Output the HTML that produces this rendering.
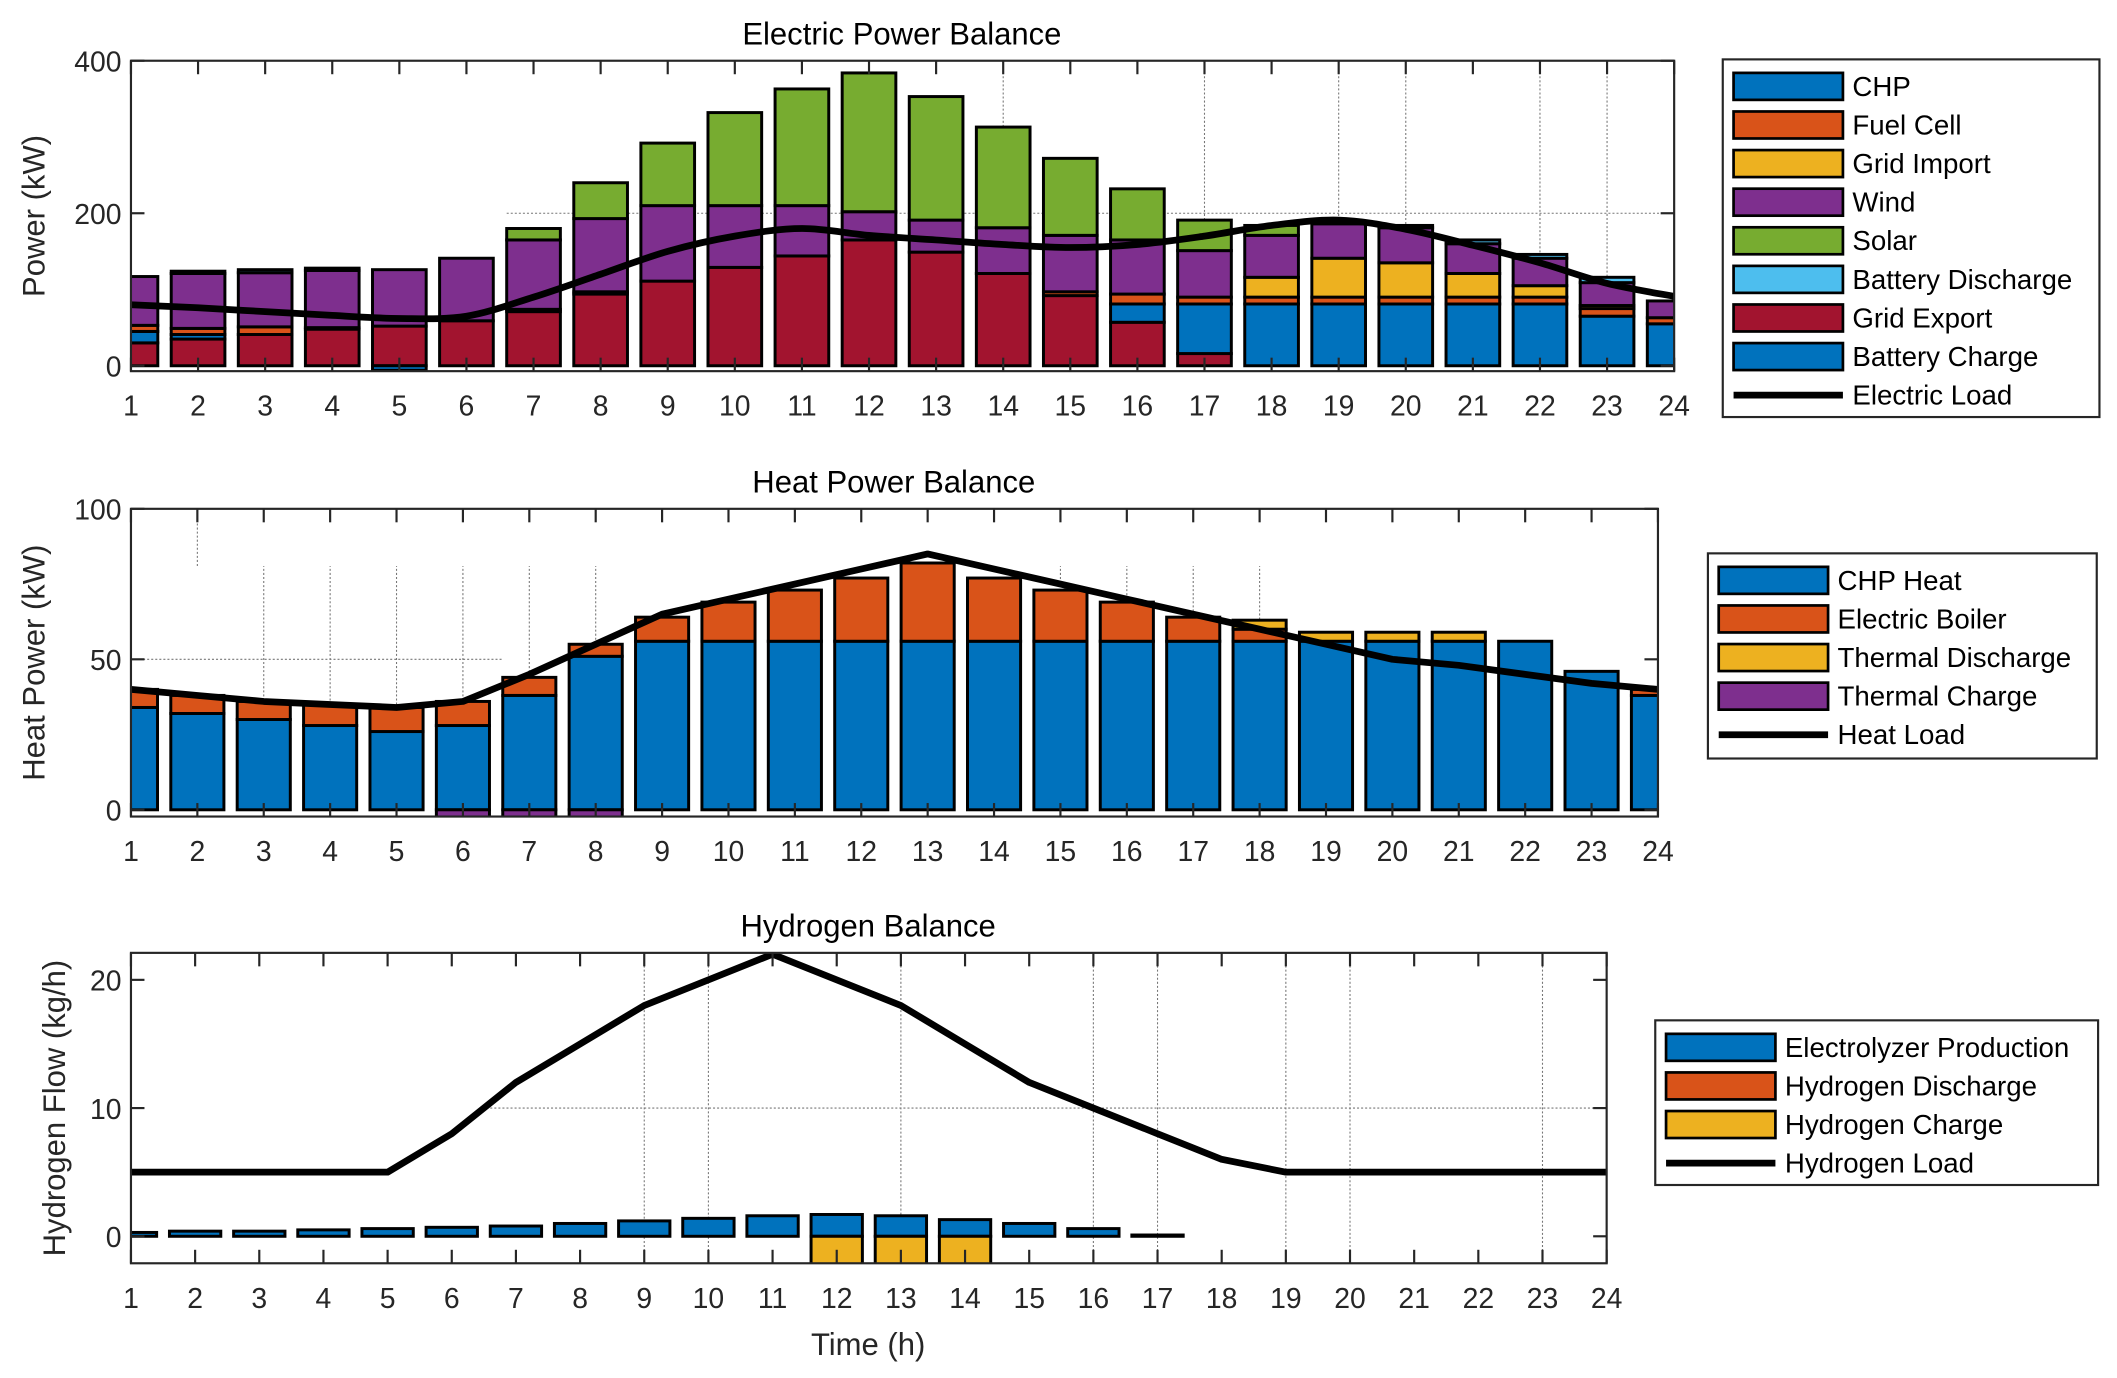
<!DOCTYPE html>
<html><head><meta charset="utf-8"><style>
html,body{margin:0;padding:0;background:#fff;}
svg{display:block;font-family:"Liberation Sans",Arial,sans-serif;}
</style></head><body>
<svg id="fig" width="2117" height="1378" viewBox="0 0 1568 1021" preserveAspectRatio="none" xmlns="http://www.w3.org/2000/svg"></svg>
<script>
const hours = [1,2,3,4,5,6,7,8,9,10,11,12,13,14,15,16,17,18,19,20,21,22,23,24];
// Electric (kW)
const elGridExport = [30,35,41,48,52,59,71,94,111,129,144,165,149,121,92,57,16,0,0,0,0,0,0,0];
const elCHP        = [15,6,0,0,0,0,0,0,0,0,0,0,0,0,0,24,65,81,81,81,81,81,65,55];
const elFuelCell   = [8,8,10,2,0,0,3,3,0,0,0,0,0,0,5,13,9,9,9,9,9,9,10,8];
const elGridImport = [0,0,0,0,0,0,0,0,0,0,0,0,0,0,0,0,0,26,51,45,31,15,4,0];
const elWind       = [64,72,71,75,74,82,91,96,99,81,66,37,42,60,74,71,61,55,45,46,39,36,30,22];
const elSolar      = [0,0,0,0,0,0,15,47,82,122,153,182,162,132,101,67,40,13,0,0,0,0,0,0];
const elBattDis    = [0,3,4,3,0,0,0,0,0,0,0,0,0,0,0,0,0,0,0,3,5,5,7,0];
const elBattCh     = [0,0,0,0,-6,0,0,0,0,0,0,0,0,0,0,0,0,0,0,0,0,0,0,0];
const elLoad       = [80,76,71,66,62,65,90,120,150,170,180,171,165,159,155,159,170,184,191,179,158,135,108,91];
const elYTicks = [0,200,400];
// Heat (kW)
const htCHP   = [34,32,30,28,26,28,38,51,56,56,56,56,56,56,56,56,56,56,56,56,56,56,46,38];
const htEB    = [6,6,6,7,8,8,6,4,8,13,17,21,26,21,17,13,8,4,0,0,0,0,0,2];
const htTD    = [0,0,0,0,0,0,0,0,0,0,0,0,0,0,0,0,0,3,3,3,3,0,0,0];
const htTC    = [0,0,0,0,0,-3,-3,-3,0,0,0,0,0,0,0,0,0,0,0,0,0,0,0,0];
const htLoad  = [40,38,36,35,34,36,45,55,65,70,75,80,85,80,75,70,65,60,55,50,48,45,42,40];
const htYTicks = [0,50,100];
// Hydrogen (kg/h)
const hyProd  = [0.3,0.4,0.4,0.5,0.6,0.7,0.8,1.0,1.2,1.4,1.6,1.7,1.6,1.3,1.0,0.6,0.1,0,0,0,0,0,0,0];
const hyDis   = [0,0,0,0,0,0,0,0,0,0,0,0,0,0,0,0,0,0,0,0,0,0,0,0];
const hyCh    = [0,0,0,0,0,0,0,0,0,0,0,-3,-3,-3,0,0,0,0,0,0,0,0,0,0];
const hyLoad  = [5,5,5,5,5,8,12,15,18,20,22,20,18,15,12,10,8,6,5,5,5,5,5,5];
const hyYTicks = [0,10,20];

const C = {chp:'#0072BD',fc:'#D95319',gi:'#EDB120',wind:'#7E2F8E',solar:'#77AC30',bd:'#4DBEEE',ge:'#A2142F'};
const NS='http://www.w3.org/2000/svg';
const fig=document.getElementById('fig');
function mk(tag,attrs,parent){const e=document.createElementNS(NS,tag);for(const k in attrs)e.setAttribute(k,attrs[k]);(parent||fig).appendChild(e);return e;}

function axes(cfg){
  const g=mk('g',{});
  
  
  const X=v=>cfg.l+(v-1)*(cfg.r-cfg.l)/23;
  const Y=v=>cfg.y0-(v)*cfg.k;
  const clipId=cfg.name+'-clip';
  const cp=mk('clipPath',{id:clipId},g);
  mk('rect',{x:cfg.l,y:cfg.t,width:cfg.r-cfg.l,height:cfg.b-cfg.t},cp);
  // grid lines
  const grid=mk('g',{stroke:'#777','stroke-width':0.8,'stroke-dasharray':'1.5 1.5'},g);
  
  
  cfg.grid.forEach(s=>mk('line',{x1:s[0]==='v'?X(s[1]):X(s[2]),x2:s[0]==='v'?X(s[1]):X(s[3]),y1:s[0]==='v'?Y(s[2]):Y(s[1]),y2:s[0]==='v'?Y(s[3]):Y(s[1])},grid));
  const bars=mk('g',{'clip-path':'url(#'+clipId+')'},g);
  const bw=0.8*(cfg.r-cfg.l)/23;
  hours.forEach((h,i)=>{
    let pos=0,neg=0;
    cfg.series.forEach(s=>{
      const v=s.data[i]; if(!v) return;
      let y1,y2; if(v>0){y1=pos;y2=pos+v;pos=y2;} else {y1=neg+v;y2=neg;neg=y1;}
      const r=mk('rect',{x:X(h)-bw/2,y:Y(y2),width:bw,height:Y(y1)-Y(y2),fill:s.color,stroke:'#000','stroke-width':2.2},bars);
      
      
    });
  });
  // load line
  let d='';
  if(cfg.smooth){
    const P=hours.map((h,i)=>[X(h),Y(cfg.load[i])]);
    d='M'+P[0][0]+','+P[0][1];
    for(let i=0;i<P.length-1;i++){const p0=P[Math.max(0,i-1)],p1=P[i],p2=P[i+1],p3=P[Math.min(P.length-1,i+2)];
      d+=' C'+(p1[0]+(p2[0]-p0[0])/6)+','+(p1[1]+(p2[1]-p0[1])/6)+' '+(p2[0]-(p3[0]-p1[0])/6)+','+(p2[1]-(p3[1]-p1[1])/6)+' '+p2[0]+','+p2[1];}
  } else d=hours.map((h,i)=>(i?'L':'M')+X(h)+','+Y(cfg.load[i])).join(' ');
  const ln=mk('path',{d:d,fill:'none',stroke:'#000','stroke-width':5,'stroke-linejoin':'round','clip-path':'url(#'+clipId+')'},g);
  
  
  // box
  const box=mk('rect',{x:cfg.l,y:cfg.t,width:cfg.r-cfg.l,height:cfg.b-cfg.t,fill:'none',stroke:'#262626','stroke-width':1.6},g);
  
  
  const tk=mk('g',{stroke:'#262626','stroke-width':1.6},g);
  hours.forEach(h=>{mk('line',{x1:X(h),x2:X(h),y1:cfg.b,y2:cfg.b-10},tk);mk('line',{x1:X(h),x2:X(h),y1:cfg.t,y2:cfg.t+10},tk);
    const t=mk('text',{x:X(h),y:cfg.b+33,'font-size':21,'text-anchor':'middle',fill:'#262626'},g);t.textContent=h;
    
    });
  cfg.yt.forEach(v=>{mk('line',{x1:cfg.l,x2:cfg.l+10,y1:Y(v),y2:Y(v)},tk);mk('line',{x1:cfg.r,x2:cfg.r-10,y1:Y(v),y2:Y(v)},tk);
    const t=mk('text',{x:cfg.l-7,y:Y(v)+8,'font-size':21,'text-anchor':'end',fill:'#262626'},g);t.textContent=v;
    
    });
  const ti=mk('text',{x:cfg.tx,y:cfg.t-12,'font-size':23,'text-anchor':'middle',fill:'#000'},g);ti.textContent=cfg.title;
  
  
  const yl=mk('text',{x:0,y:0,'font-size':23,'text-anchor':'middle',fill:'#262626',transform:'translate('+cfg.ylx+','+((cfg.t+cfg.b)/2)+') rotate(-90)'},g);yl.textContent=cfg.ylabel;
  
  
  // legend
  const L=cfg.leg;
  const lg=mk('g',{},g);
  
  
  mk('rect',{x:L.x,y:L.y,width:L.w,height:L.h,fill:'#fff',stroke:'#262626','stroke-width':1.6},lg);
  L.items.forEach((it,i)=>{const cy=L.y+20+i*28.6;
    if(it[1]) mk('rect',{x:L.x+8,y:cy-10,width:81,height:20,fill:it[1],stroke:'#000','stroke-width':2},lg);
    else mk('line',{x1:L.x+8,x2:L.x+89,y1:cy,y2:cy,stroke:'#000','stroke-width':5},lg);
    const t=mk('text',{x:L.x+96,y:cy+7,'font-size':20.5,fill:'#000'},lg);t.textContent=it[0];
    
    });
}

axes({name:'electric-chart',l:97,r:1240,t:45,b:275,y0:271,k:0.565,yt:elYTicks,title:'Electric Power Balance',tx:668,ylabel:'Power (kW)',ylx:33,smooth:true,load:elLoad,
  grid:[['h',200,6.6,24],['v',14,0,400],['v',17,0,400],['v',19,0,400],['v',20,0,400],['v',22,0,400],['v',23,0,400]],
  series:[{key:'grid-export',data:elGridExport,color:C.ge},{key:'chp',data:elCHP,color:C.chp},{key:'fuel-cell',data:elFuelCell,color:C.fc},{key:'grid-import',data:elGridImport,color:C.gi},{key:'wind',data:elWind,color:C.wind},{key:'solar',data:elSolar,color:C.solar},{key:'battery-discharge',data:elBattDis,color:C.bd},{key:'battery-charge',data:elBattCh,color:C.chp}],
  leg:{x:1276,y:44,w:279,h:265,items:[['CHP',C.chp],['Fuel Cell',C.fc],['Grid Import',C.gi],['Wind',C.wind],['Solar',C.solar],['Battery Discharge',C.bd],['Grid Export',C.ge],['Battery Charge',C.chp],['Electric Load',null]]}});

axes({name:'heat-chart',l:97,r:1228,t:377,b:605,y0:600,k:2.23,yt:htYTicks,title:'Heat Power Balance',tx:662,ylabel:'Heat Power (kW)',ylx:33,smooth:false,load:htLoad,
  grid:[['h',50,1,6.6],['v',2,81,100],['v',3,0,81],['v',4,0,81],['v',5,0,81],['v',6,0,81],['v',7,0,81],['v',8,0,81],['v',15,0,81],['v',16,0,81],['v',17,0,81],['v',18,0,81]],
  series:[{key:'chp-heat',data:htCHP,color:C.chp},{key:'electric-boiler',data:htEB,color:C.fc},{key:'thermal-discharge',data:htTD,color:C.gi},{key:'thermal-charge',data:htTC,color:C.wind}],
  leg:{x:1265,y:410,w:288,h:152,items:[['CHP Heat',C.chp],['Electric Boiler',C.fc],['Thermal Discharge',C.gi],['Thermal Charge',C.wind],['Heat Load',null]]}});

axes({name:'hydrogen-chart',l:97,r:1190,t:706,b:936,y0:916,k:9.5,yt:hyYTicks,title:'Hydrogen Balance',tx:643,ylabel:'Hydrogen Flow (kg/h)',ylx:48,smooth:false,load:hyLoad,
  grid:[['h',10,6.6,24],['v',9,-2.1,22.1],['v',10,-2.1,22.1],['v',13,-2.1,22.1],['v',16,-2.1,22.1],['v',17,-2.1,22.1],['v',19,-2.1,22.1],['v',20,-2.1,22.1],['v',23,-2.1,22.1]],
  series:[{key:'electrolyzer-production',data:hyProd,color:C.chp},{key:'hydrogen-discharge',data:hyDis,color:C.fc},{key:'hydrogen-charge',data:hyCh,color:C.gi}],
  leg:{x:1226,y:756,w:328,h:122,items:[['Electrolyzer Production',C.chp],['Hydrogen Discharge',C.fc],['Hydrogen Charge',C.gi],['Hydrogen Load',null]]}});

const xl=mk('text',{x:643,y:1004,'font-size':23,'text-anchor':'middle',fill:'#262626'});
xl.textContent='Time (h)';


</script>
</body></html>
